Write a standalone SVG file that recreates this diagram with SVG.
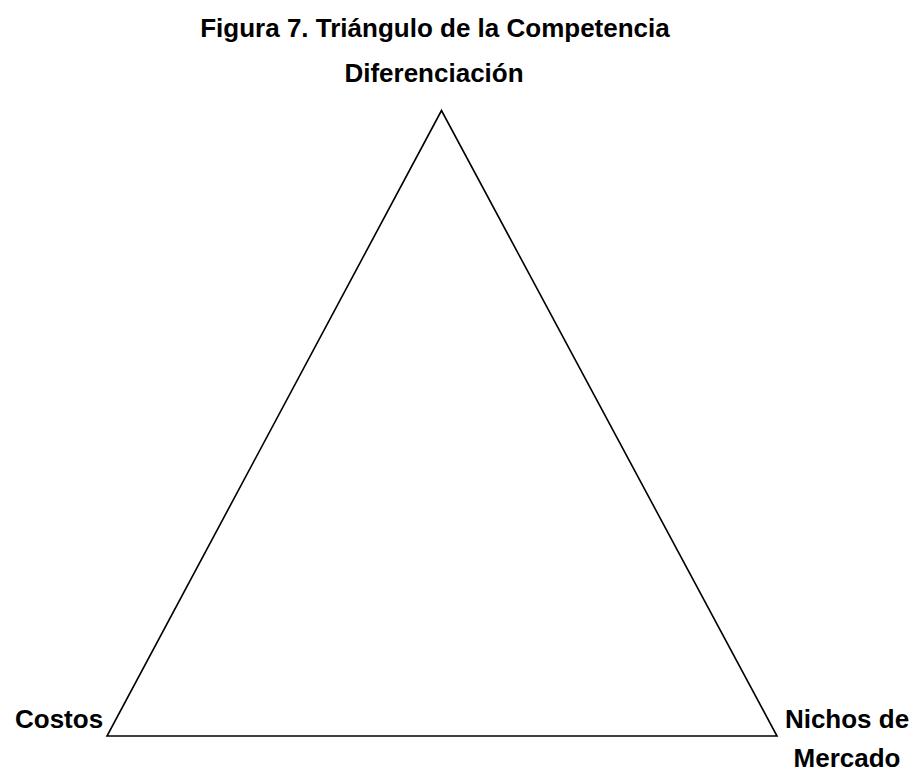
<svg xmlns="http://www.w3.org/2000/svg" width="914" height="777" viewBox="0 0 914 777">
<style>
text{font-family:"Liberation Sans",Arial,sans-serif;font-weight:bold;font-size:26px;fill:#000}
.edge{fill:none;stroke:#000;stroke-width:1.6;stroke-linejoin:miter}
</style>
<rect width="914" height="777" fill="#fff"/>
<text id="title" x="435" y="37" text-anchor="middle">Figura 7. Triángulo de la Competencia</text>
<g id="connectors">
<polygon class="edge" points="441.5,110.5 107,736 777,736"/>
</g>
<g id="diferenciacion"><text x="434" y="82" text-anchor="middle">Diferenciación</text></g>
<g id="costos"><text x="15" y="728">Costos</text></g>
<g id="nichos"><text x="847" y="728" text-anchor="middle">Nichos de</text><text x="847" y="767" text-anchor="middle">Mercado</text></g>
</svg>
